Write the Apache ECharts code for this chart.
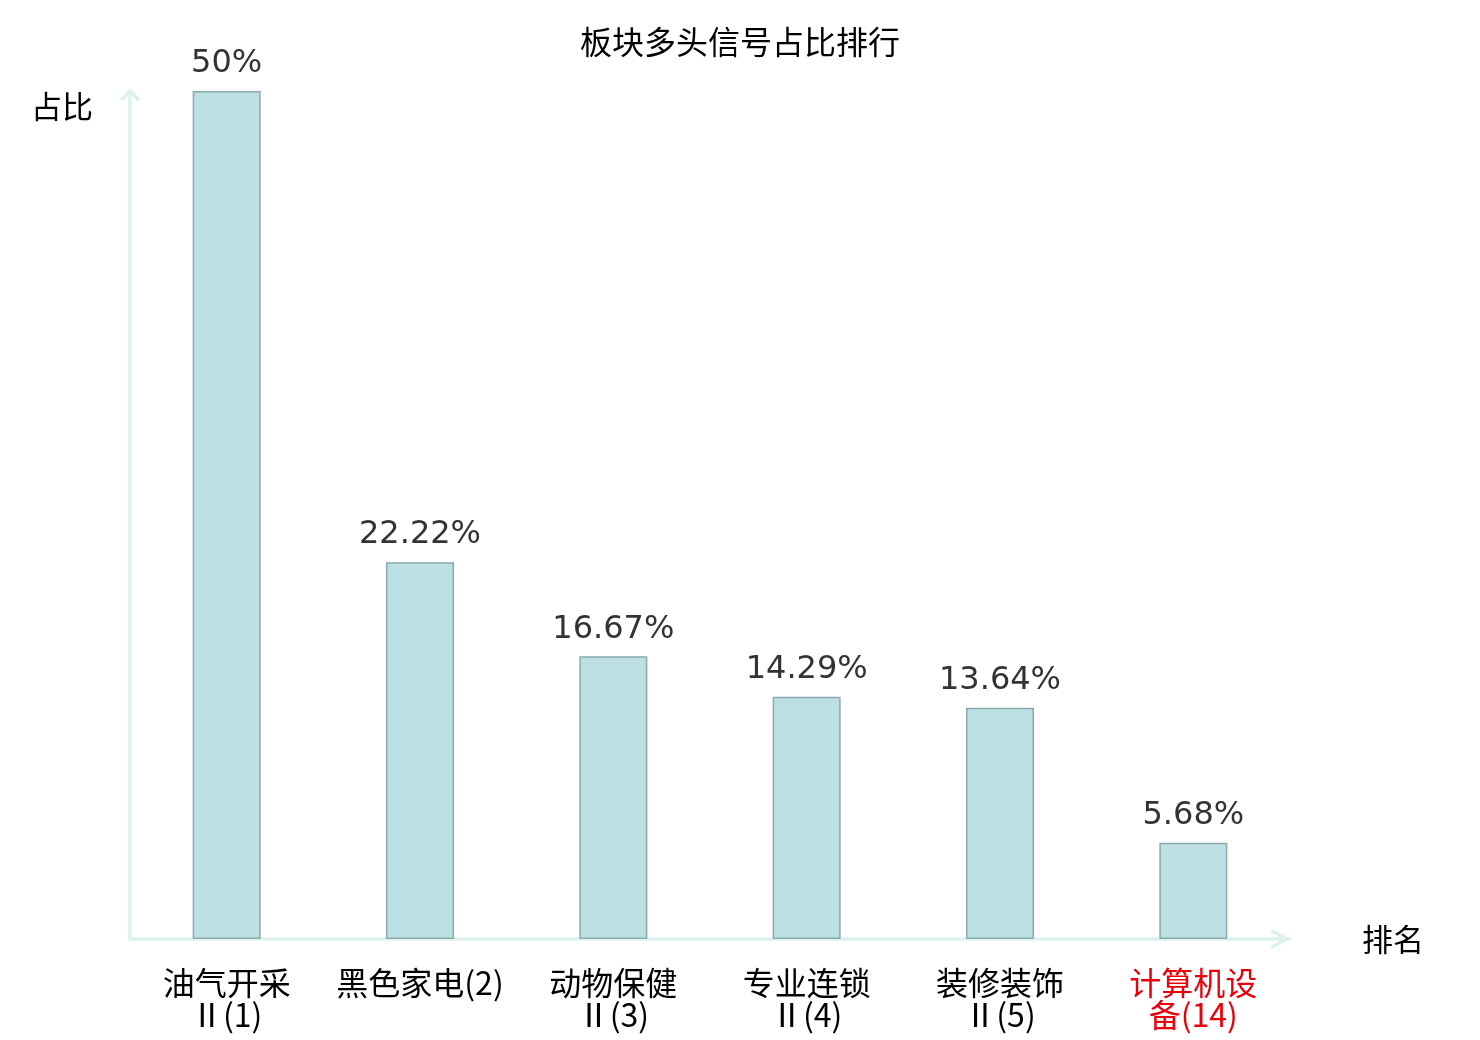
<!DOCTYPE html>
<html><head><meta charset="utf-8">
<script src="https://cdn.jsdelivr.net/npm/echarts@6/dist/echarts.min.js"></script>
<style>html,body{margin:0;padding:0;background:#fff}#c{width:1480px;height:1040px}</style>
</head><body><div id="c"></div>
<script>
const categories = ['油气开采Ⅱ(1)', '黑色家电(2)', '动物保健Ⅱ(3)', '专业连锁Ⅱ(4)', '装修装饰Ⅱ(5)', '计算机设备(14)'];
const values = [50, 22.22, 16.67, 14.29, 13.64, 5.68];
const highlightIndex = 5;

const chevronX = 'path://M10 0 L20 19 L17 20.6 L10 7.3 L3 20.6 L0 19 Z';
const chevronY = 'path://M11.41 0 L22.82 11.42 L20 14.24 L11.41 5.66 L2.82 14.24 L0 11.42 Z';
const lineStyle = { color: '#dcf2ee', width: 3.5 };

const chart = echarts.init(document.getElementById('c'));
chart.setOption({
  backgroundColor: '#fff',
  animation: false,
  title: {
    text: '板块多头信号占比排行', left: 'center', top: 21,
    textStyle: { fontFamily: 'Noto Sans CJK SC', fontSize: 32, fontWeight: 'normal', color: '#000' }
  },
  grid: { left: 130, right: 190, top: 91, bottom: 101 },
  xAxis: {
    type: 'category', data: categories,
    name: '排名', nameLocation: 'end', nameGap: 72,
    nameTextStyle: { fontFamily: 'Noto Sans CJK SC', fontSize: 31, color: '#000' },
    axisLine: { show: true, symbol: ['none', chevronX], symbolSize: [20, 20.6], symbolOffset: [0, -9.5], lineStyle: lineStyle },
    axisTick: { show: false },
    axisLabel: {
      interval: 0, margin: 28, lineHeight: 32,
      fontFamily: 'Noto Sans CJK SC', fontSize: 32,
      color: (v, i) => (i === highlightIndex ? '#e8000b' : '#000'),
      formatter: v => (v.length > 7 ? v.slice(0, 4) + '\n' + v.slice(4) : v)
    }
  },
  yAxis: {
    type: 'value', min: 0, max: 50,
    name: '占比', nameLocation: 'end', nameGap: 0,
    nameTextStyle: { fontFamily: 'Noto Sans CJK SC', fontSize: 31, color: '#000', align: 'right', padding: [0, 37, -31, 0] },
    axisLine: { show: true, symbol: ['none', chevronY], symbolSize: [20, 12.5], symbolOffset: [0, -4], lineStyle: lineStyle },
    axisTick: { show: false }, axisLabel: { show: false }, splitLine: { show: false }
  },
  series: [{
    type: 'bar', data: values, barWidth: 68,
    itemStyle: { color: '#bce0e3', borderColor: '#8aa9aa', borderWidth: 1.5 },
    label: {
      show: true, position: 'top', distance: 11,
      fontFamily: 'DejaVu Sans', fontSize: 32, color: '#333',
      formatter: p => p.value + '%'
    }
  }]
});
</script></body></html>
